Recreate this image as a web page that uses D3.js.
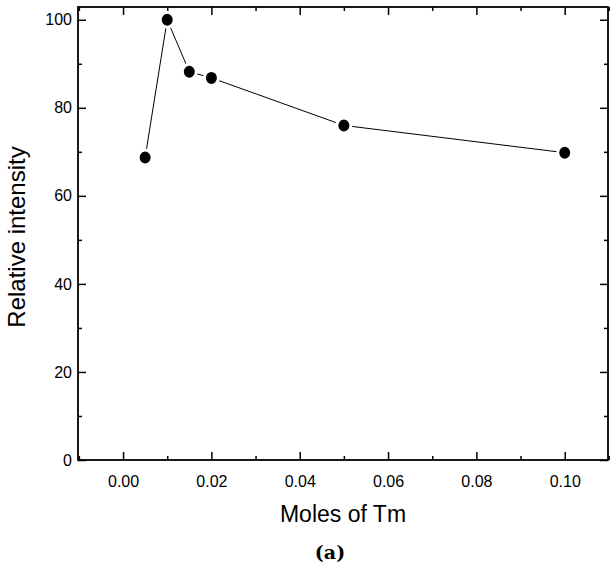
<!DOCTYPE html>
<html>
<head>
<meta charset="utf-8">
<script src="https://cdn.jsdelivr.net/npm/d3@7"></script>
<style>
  body { margin: 0; background: #fff; }
  svg { font-family: "Liberation Sans", Arial, sans-serif; }
</style>
</head>
<body>
<div id="chart"></div>
<script>
// data
var moles = [0.005, 0.01, 0.015, 0.02, 0.05, 0.10];
var intensity = [68.7, 100, 88.2, 86.8, 76.0, 69.8];
var xTicks = [0.00, 0.02, 0.04, 0.06, 0.08, 0.10];
var yTicks = [0, 20, 40, 60, 80, 100];

var width = 610, height = 568;
var margin = {top: 7, right: 2, bottom: 108, left: 78};
var w = width - margin.left - margin.right,
    h = height - margin.top - margin.bottom;

var svg = d3.select("#chart").append("svg")
    .attr("width", width)
    .attr("height", height);

var g = svg.append("g")
    .attr("transform", "translate(" + margin.left + "," + margin.top + ")");

var x = d3.scaleLinear().domain([-0.0102, 0.1098]).range([0, w]);
var y = d3.scaleLinear().domain([0, 102.9]).range([h, 0]);

var xMinor = d3.range(-0.01, 0.111, 0.01).filter(function(v) {
  return xTicks.every(function(t) { return Math.abs(t - v) > 1e-6; });
});
var yMinor = [10, 30, 50, 70, 90];

function styleAxis(sel) {
  sel.select(".domain").remove();
  sel.selectAll("line").attr("stroke", "#000").attr("stroke-width", 1.5);
  sel.selectAll("text")
    .attr("fill", "#000")
    .style("font-family", "'Liberation Sans', Arial, sans-serif")
    .style("font-size", "16px");
}

// bottom
g.append("g").attr("transform", "translate(0," + h + ")")
  .call(d3.axisBottom(x).tickValues(xTicks).tickFormat(d3.format(".2f")).tickSizeInner(-8).tickSizeOuter(0).tickPadding(16))
  .call(styleAxis);
g.append("g").attr("transform", "translate(0," + h + ")")
  .call(d3.axisBottom(x).tickValues(xMinor).tickFormat("").tickSizeInner(-4).tickSizeOuter(0))
  .call(styleAxis);
// top
g.append("g")
  .call(d3.axisTop(x).tickValues(xTicks).tickFormat("").tickSizeInner(-8).tickSizeOuter(0))
  .call(styleAxis);
g.append("g")
  .call(d3.axisTop(x).tickValues(xMinor).tickFormat("").tickSizeInner(-4).tickSizeOuter(0))
  .call(styleAxis);
// left
g.append("g")
  .call(d3.axisLeft(y).tickValues(yTicks).tickSizeInner(-8).tickSizeOuter(0).tickPadding(6))
  .call(styleAxis);
g.append("g")
  .call(d3.axisLeft(y).tickValues(yMinor).tickFormat("").tickSizeInner(-4).tickSizeOuter(0))
  .call(styleAxis);
// right
g.append("g").attr("transform", "translate(" + w + ",0)")
  .call(d3.axisRight(y).tickValues(yTicks).tickFormat("").tickSizeInner(-8).tickSizeOuter(0))
  .call(styleAxis);
g.append("g").attr("transform", "translate(" + w + ",0)")
  .call(d3.axisRight(y).tickValues(yMinor).tickFormat("").tickSizeInner(-4).tickSizeOuter(0))
  .call(styleAxis);

g.append("rect")
  .attr("width", w).attr("height", h)
  .attr("fill", "none").attr("stroke", "#000").attr("stroke-width", 1.8);

var pts = moles.map(function(m, i) { return [m, intensity[i]]; });

g.append("path")
  .datum(pts)
  .attr("fill", "none")
  .attr("stroke", "#000")
  .attr("stroke-width", 1)
  .attr("d", d3.line().x(function(d) { return x(d[0]); }).y(function(d) { return y(d[1]); }));

g.selectAll(".dot")
  .data(pts)
  .enter().append("ellipse")
  .attr("class", "dot")
  .attr("cx", function(d) { return x(d[0]); })
  .attr("cy", function(d) { return y(d[1]); })
  .attr("rx", 7).attr("ry", 7.5)
  .attr("fill", "#000")
  .attr("stroke", "#fff")
  .attr("stroke-width", 3);

svg.append("text")
  .attr("x", 343)
  .attr("y", 522)
  .attr("text-anchor", "middle")
  .style("font-size", "23px")
  .text("Moles of Tm");

svg.append("text")
  .attr("transform", "translate(25,237) rotate(-90)")
  .attr("text-anchor", "middle")
  .style("font-size", "24px")
  .text("Relative intensity");

svg.append("text")
  .attr("x", 330)
  .attr("y", 559)
  .attr("text-anchor", "middle")
  .style("font-family", "'DejaVu Serif', serif")
  .style("font-weight", "bold")
  .style("font-size", "19px")
  .text("(a)");
</script>
</body>
</html>
